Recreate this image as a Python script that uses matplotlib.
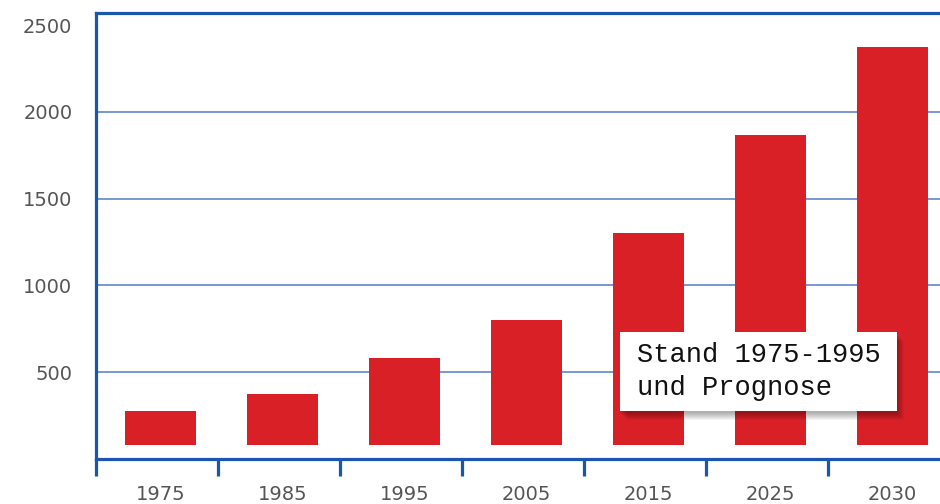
import numpy as np
import matplotlib
matplotlib.use("Agg")
import matplotlib.pyplot as plt
from matplotlib.patches import Rectangle

plt.rcParams["font.family"] = ["DejaVu Sans"]

years = ["1975", "1985", "1995", "2005", "2015", "2025", "2030"]
values = [276, 374, 580, 799, 1305, 1868, 2374]
bar_base = 80
yticks = [500, 1000, 1500, 2000, 2500]

blue = "#1a56ad"
grid_blue = "#6d8fd2"
red = "#da2027"
gray = "#555555"

fig = plt.figure(figsize=(9.4, 5.04), dpi=100)
ax = fig.add_axes([96 / 940, 45 / 504, 1 - 96 / 940, (459 - 13) / 504])

x = np.arange(len(years))
heights = [v - bar_base for v in values]
ax.bar(x + 0.03, heights, bottom=bar_base, width=0.58, color=red, zorder=3)

# gridlines (none at the top label)
for v in yticks[:-1]:
    ax.axhline(v, color=grid_blue, lw=1.3, zorder=1)

for s in ["left", "top", "bottom"]:
    ax.spines[s].set_color(blue)
    ax.spines[s].set_linewidth(2.3)
ax.spines["right"].set_visible(False)

ax.set_yticks(yticks)
ax.set_yticklabels([str(v) for v in yticks])
ax.tick_params(axis="y", length=0, pad=17, labelsize=14, labelcolor=gray)

ax.set_xticks(np.arange(-0.5, len(years) + 0.5, 1.0))
ax.set_xticklabels([])
ax.tick_params(axis="x", which="major", length=12, width=2.3, color=blue, direction="out")
ax.set_xticks(x + 0.03, minor=True)
ax.set_xticklabels(years, minor=True)
ax.tick_params(axis="x", which="minor", length=0, pad=19, labelsize=14, labelcolor=gray)

# limits last, set_xticks would widen them
ax.set_xlim(-0.5, 6.42)
ax.set_ylim(0, 2570)

# note box with soft shadow
bx0, bx1 = 620 / 940, 897 / 940
by0, by1 = 1 - 411 / 504, 1 - 332 / 504
for i in range(8):
    d = 9 - i
    fig.patches.append(Rectangle((bx0 + (d - 2) / 940, by0 - d / 504), bx1 - bx0,
                                 by1 - by0, transform=fig.transFigure,
                                 facecolor="black", edgecolor="none", alpha=0.045, zorder=5))
fig.patches.append(Rectangle((bx0, by0), bx1 - bx0, by1 - by0, transform=fig.transFigure,
                             facecolor="white", edgecolor="none", zorder=6))
fig.text(637 / 940, 1 - 355 / 504, "Stand 1975-1995", family="Liberation Mono",
         fontsize=19.5, color="#111111", va="center", ha="left", zorder=7)
fig.text(637 / 940, 1 - 388 / 504, "und Prognose", family="Liberation Mono",
         fontsize=19.5, color="#111111", va="center", ha="left", zorder=7)

fig.savefig("out.png", dpi=100)
